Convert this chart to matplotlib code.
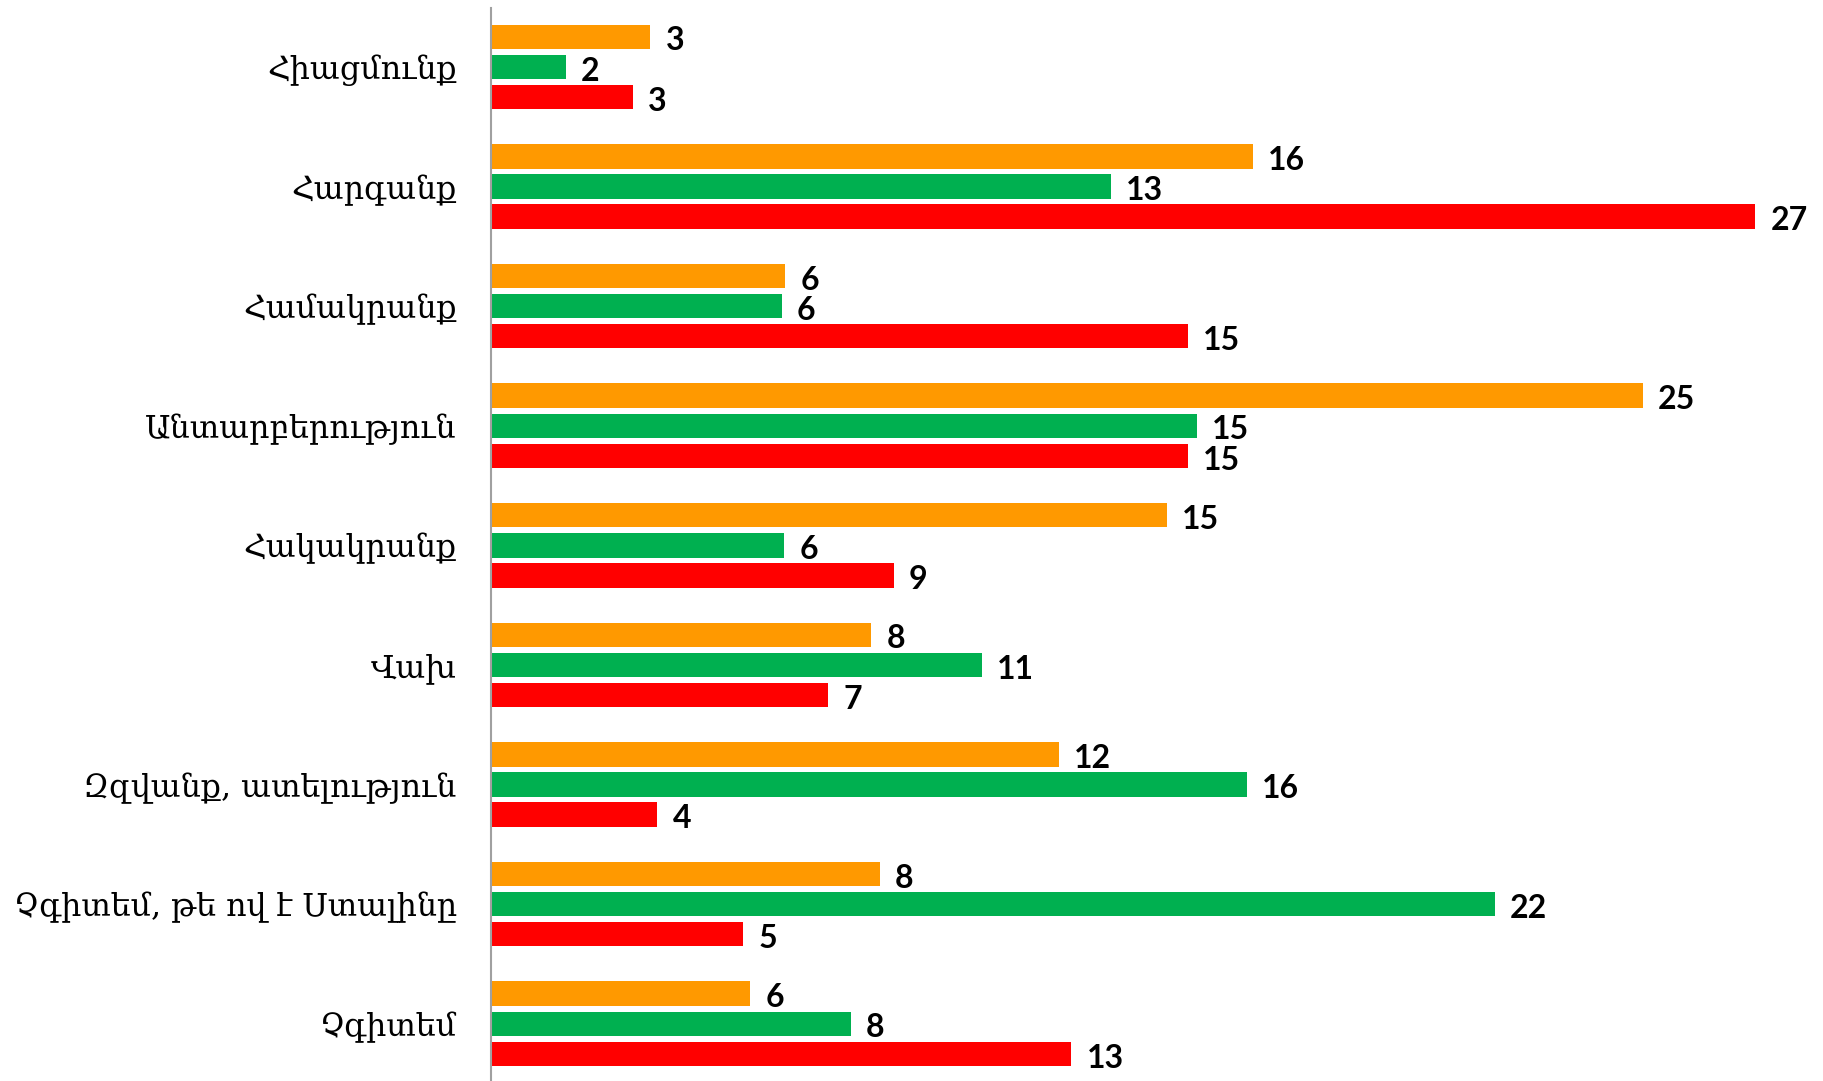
import matplotlib
matplotlib.use('Agg')
import matplotlib.pyplot as plt
import numpy as np

colors = ['#FF9900', '#00B050', '#FF0000']

categories = ['Հիացմունք', 'Հարգանք', 'Համակրանք', 'Անտարբերություն', 'Հակակրանք',
              'Վախ', 'Զզվանք, ատելություն', 'Չգիտեմ, թե ով է Ստալինը', 'Չգիտեմ']
orange = [3.43, 16.45, 6.35, 24.88, 14.60, 8.21, 12.26, 8.39, 5.59]
green = [1.60, 13.39, 6.27, 15.24, 6.32, 10.60, 16.33, 21.68, 7.76]
red = [3.05, 27.31, 15.05, 15.05, 8.69, 7.28, 3.58, 5.44, 12.53]

def run_chart():
    fig = plt.figure(figsize=[18.24, 10.81], dpi=100)
    ax = fig.add_axes([491.5/1824, 0, 1 - 491.5/1824, 1 - 8/1081])

    y = np.arange(len(categories))
    step = 0.252
    height = 0.204
    series = [orange, green, red]
    for k, vals in enumerate(series):
        bars = ax.barh(y + (k-1)*step, vals, height=height, color=colors[k], linewidth=0)
        labels = [str(int(np.floor(v + 0.5))) for v in vals]
        texts = ax.bar_label(bars, labels=labels, padding=11, fontsize=23,
                             fontweight='bold', family=['Lato', 'DejaVu Sans'])
        for t in texts:
            t.xyann = (11, -3)

    ax.set_xlim(0, (1824 - 491.5)/46.27)
    ax.set_ylim(8.479, -0.4925)
    ax.set_yticks(y)
    ax.set_yticklabels(categories, fontsize=22.8, family=['DejaVu Serif', 'DejaVu Sans'])
    ax.tick_params(axis='y', length=0, pad=25)
    ax.set_xticks([])
    for side in ['top', 'right', 'bottom']:
        ax.spines[side].set_visible(False)
    ax.spines['left'].set_color('#A0A0A0')
    ax.spines['left'].set_linewidth(1.5)

    plt.savefig('out.png', dpi=100)
    plt.close('all')

if __name__ == '__main__':
    run_chart()
